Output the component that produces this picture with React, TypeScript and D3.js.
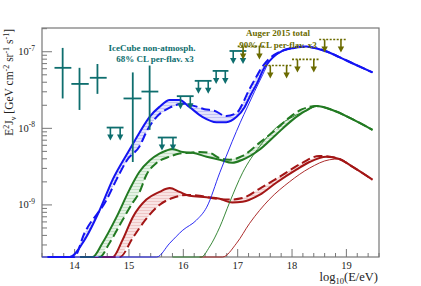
import * as d3 from 'd3'

type Pt = [number, number]

// x: log10(E/eV), y: log10(E^2 J) [GeV cm^-2 sr^-1 s^-1]
const blueTail: Pt[] = [[18.26, -6.93], [18.47, -6.96], [18.65, -7.0], [18.87, -7.07], [19.17, -7.17], [19.48, -7.27]]
const blueSolid: Pt[] = [
  [13.5, -10.4], [13.8, -9.9], [13.91, -9.68], [14.18, -9.46], [14.46, -9.07], [14.7, -8.67], [15.01, -8.28],
  [15.19, -8.06], [15.38, -7.85], [15.56, -7.72], [15.75, -7.63], [15.93, -7.63], [16.11, -7.72],
  [16.35, -7.85], [16.61, -7.92], [16.79, -7.92], [16.98, -7.85], [17.13, -7.72], [17.22, -7.59],
  [17.35, -7.42], [17.49, -7.21], [17.64, -7.08], [17.82, -6.99], [18.04, -6.95], ...blueTail,
]
const blueDashed: Pt[] = [
  [13.6, -10.4], [13.9, -9.9], [13.99, -9.68], [14.18, -9.37], [14.59, -8.93], [14.77, -8.67], [14.97, -8.41],
  [15.19, -8.24], [15.34, -8.02], [15.51, -7.85], [15.75, -7.73], [15.99, -7.68], [16.21, -7.71],
  [16.39, -7.75], [16.57, -7.77], [16.79, -7.84], [16.98, -7.8], [17.09, -7.68], [17.18, -7.54],
  [17.31, -7.37], [17.44, -7.21], [17.58, -7.09], [17.77, -7.0], [17.99, -6.95], [18.2, -6.93], ...blueTail.slice(1),
]
const blueThin: Pt[] = [
  [13.4, -10.8], [15.2, -10.1], [15.51, -9.68], [15.75, -9.5], [15.99, -9.33], [16.24, -9.2], [16.43, -9.03],
  [16.67, -8.58], [16.9, -8.17], [17.05, -7.92], [17.18, -7.72], [17.31, -7.52], [17.46, -7.3],
  [17.58, -7.13], [17.71, -7.04], [17.92, -6.97], [18.1, -6.94], ...blueTail,
]

const greenTail: Pt[] = [[18.45, -7.71], [18.74, -7.76], [19.11, -7.88], [19.48, -8.02]]
const greenSolid: Pt[] = [
  [14.1, -10.3], [14.25, -9.85], [14.33, -9.68], [14.51, -9.5], [14.77, -9.16], [15.01, -8.8], [15.19, -8.57],
  [15.38, -8.42], [15.56, -8.33], [15.69, -8.29], [15.8, -8.27], [15.99, -8.31], [16.17, -8.32],
  [16.43, -8.37], [16.67, -8.41], [16.9, -8.45], [17.09, -8.41], [17.4, -8.28], [17.71, -8.08],
  [18.01, -7.89], [18.23, -7.78], ...greenTail,
]
const greenDashed: Pt[] = [
  [14.2, -10.3], [14.38, -9.85], [14.46, -9.68], [14.64, -9.5], [14.88, -9.2], [15.07, -8.97], [15.19, -8.84],
  [15.32, -8.61], [15.51, -8.45], [15.75, -8.37], [15.93, -8.33], [16.11, -8.32], [16.3, -8.31],
  [16.48, -8.32], [16.67, -8.39], [16.85, -8.41], [17.09, -8.36], [17.4, -8.19], [17.71, -8.01],
  [17.95, -7.86], [18.19, -7.75], ...greenTail,
]
const greenThin: Pt[] = [
  [15.8, -10.5], [16.25, -9.9], [16.33, -9.68], [16.48, -9.55], [16.67, -9.29], [16.85, -8.97], [17.09, -8.58],
  [17.4, -8.24], [17.71, -7.99], [18.01, -7.85], [18.3, -7.76], ...greenTail,
]

const redTail: Pt[] = [[18.87, -8.4], [19.11, -8.5], [19.48, -8.67]]
const redSolid: Pt[] = [
  [14.2, -10.4], [14.6, -9.85], [14.7, -9.68], [14.88, -9.46], [15.07, -9.16], [15.32, -8.93], [15.56, -8.83],
  [15.75, -8.78], [15.93, -8.83], [16.11, -8.88], [16.43, -8.9], [16.67, -8.92], [16.9, -8.97],
  [17.09, -8.96], [17.4, -8.87], [17.71, -8.71], [18.08, -8.54], [18.32, -8.44], [18.63, -8.37], ...redTail,
]
const redDashed: Pt[] = [
  [14.35, -10.4], [14.72, -9.85], [14.83, -9.68], [15.07, -9.43], [15.32, -9.18], [15.56, -9.0], [15.8, -8.91],
  [16.06, -8.87], [16.3, -8.88], [16.61, -8.92], [16.85, -8.93], [17.09, -8.91], [17.4, -8.79],
  [17.82, -8.61], [18.19, -8.45], [18.5, -8.36], [18.7, -8.37], ...redTail,
]
const redThin: Pt[] = [
  [16.3, -10.3], [16.6, -9.85], [16.72, -9.68], [16.98, -9.5], [17.22, -9.24], [17.58, -8.93], [17.95, -8.7],
  [18.32, -8.52], [18.69, -8.41], ...redTail,
]

// IceCube non-atmospheric points: bin edges, centre, value and error range
const iceCubePoints = [
  { e: 13.78, lo: 13.63, hi: 13.94, f: -7.21, fLo: -7.61, fHi: -6.95 },
  { e: 14.09, lo: 13.94, hi: 14.26, f: -7.42, fLo: -7.76, fHi: -7.21 },
  { e: 14.42, lo: 14.28, hi: 14.59, f: -7.34, fLo: -7.55, fHi: -7.16 },
  { e: 15.07, lo: 14.9, hi: 15.23, f: -7.61, fLo: -8.44, fHi: -7.27 },
  { e: 15.38, lo: 15.23, hi: 15.54, f: -7.52, fLo: -8.02, fHi: -7.18 },
]
const iceCubeLimits = [
  { lo: 14.59, hi: 14.9, f: -7.99 },
  { lo: 15.53, hi: 15.88, f: -8.12 },
  { lo: 15.88, hi: 16.19, f: -7.58 },
  { lo: 16.21, hi: 16.52, f: -7.38 },
  { lo: 16.54, hi: 16.83, f: -7.25 },
  { lo: 16.85, hi: 17.16, f: -6.99 },
]
const augerLimits = [
  { lo: 17.0, hi: 17.5, f: -6.93 },
  { lo: 17.5, hi: 18.0, f: -7.18 },
  { lo: 18.0, hi: 18.5, f: -7.1 },
  { lo: 18.5, hi: 19.0, f: -6.84 },
]

const xTicks = [14, 15, 16, 17, 18, 19]
const yTickExps = [-9, -8, -7]

const W = 421
const H = 286
const L = 42
const R = 379
const T = 28
const B = 257
const yMinExp = -9.68
const yMaxExp = -6.69

const serif = "'Liberation Serif', 'Times New Roman', serif"
const teal = '#0e6e6e'
const olive = '#6b6b00'
const axisGrey = '#777'

export default function App() {
  const x = d3.scaleLinear().domain([13.4, 19.6]).range([L, R])
  const y = d3.scaleLog().domain([10 ** yMinExp, 10 ** yMaxExp]).range([B, T])
  const yv = (v: number) => y(10 ** Math.max(v, yMinExp))

  const line = d3.line<Pt>().x(d => x(d[0])).y(d => yv(d[1])).curve(d3.curveMonotoneX)
  const lineRev = d3.line<Pt>().x(d => x(d[0])).y(d => yv(d[1])).curve(d3.curveLinear)
  const band = (a: Pt[], b: Pt[]) => {
    // along one curve, back along the other
    const p1 = line(a) || ''
    const rev = [...b].reverse()
    const p2 = (lineRev(rev) || '').replace(/^M/, 'L')
    return p1 + p2 + 'Z'
  }

  const families = [
    { key: 'red', color: '#a31616', pat: 'hatchRed', solid: redSolid, dashed: redDashed, thin: redThin },
    { key: 'green', color: '#227a22', pat: 'hatchGreen', solid: greenSolid, dashed: greenDashed, thin: greenThin },
    { key: 'blue', color: '#1414f2', pat: 'hatchBlue', solid: blueSolid, dashed: blueDashed, thin: blueThin },
  ]

  const xMinor: number[] = []
  for (let i = 67; i <= 98; i++) if (i % 5 !== 0) xMinor.push(i / 5)
  const yMinor: number[] = []
  for (let e = -10; e <= -7; e++) {
    for (let k = 2; k <= 9; k++) {
      const v = k * 10 ** e
      if (v > 10 ** yMinExp && v < 10 ** yMaxExp) yMinor.push(v)
    }
  }

  const arrow = (cx: number, y0: number, color: string, k: string) => (
    <g key={k}>
      <line x1={cx} x2={cx} y1={y0} y2={y0 + 8} stroke={color} strokeWidth={1.6} />
      <path d={`M${cx - 3.2},${y0 + 7} L${cx + 3.2},${y0 + 7} L${cx},${y0 + 13} Z`} fill={color} />
    </g>
  )

  return (
    <svg width={W} height={H} style={{ position: 'absolute', left: 0, top: 0, background: '#fff' }}>
      <defs>
        <clipPath id="plotArea">
          <rect x={L} y={T - 2} width={R - L} height={B - T + 4} />
        </clipPath>
        {[
          ['hatchBlue', '#e4e4fb', '#c2c2f3'],
          ['hatchGreen', '#e6f2e6', '#c6e0c6'],
          ['hatchRed', '#f8e4e4', '#efc6c6'],
        ].map(([id, bg, fg]) => (
          <pattern key={id} id={id} width={4} height={3} patternUnits="userSpaceOnUse">
            <rect width={4} height={3} fill={bg} />
            <line x1={0} x2={4} y1={0.5} y2={0.5} stroke={fg} strokeWidth={1} />
          </pattern>
        ))}
      </defs>

      {/* frame */}
      <rect x={L} y={T} width={R - L} height={B - T} fill="none" stroke={axisGrey} strokeWidth={1.2} />

      {/* x ticks */}
      {xTicks.map(t => (
        <line key={'xt' + t} x1={x(t)} x2={x(t)} y1={B} y2={B - 8} stroke={axisGrey} strokeWidth={1} />
      ))}
      {xMinor.map(t => (
        <line key={'xm' + t} x1={x(t)} x2={x(t)} y1={B} y2={B - 4} stroke={axisGrey} strokeWidth={1} />
      ))}
      {xTicks.map(t => (
        <text key={'xl' + t} x={x(t)} y={B + 12} textAnchor="middle" fontFamily={serif} fontSize={10.5} fill="#222">
          {t}
        </text>
      ))}

      {/* y ticks */}
      {yTickExps.map(e => (
        <line key={'yt' + e} x1={L} x2={L + 10} y1={y(10 ** e)} y2={y(10 ** e)} stroke={axisGrey} strokeWidth={1} />
      ))}
      {yMinor.map((v, i) => (
        <line key={'ym' + i} x1={L} x2={L + 5} y1={y(v)} y2={y(v)} stroke={axisGrey} strokeWidth={1} />
      ))}
      {yTickExps.map(e => (
        <text key={'yl' + e} x={35} y={y(10 ** e) + 3.5} textAnchor="end" fontFamily={serif} fontSize={10.5} fill="#222">
          10<tspan dy={-4.5} fontSize={7.5}>{e}</tspan>
        </text>
      ))}

      {/* model curves */}
      <g clipPath="url(#plotArea)">
        {families.map(f => (
          <g key={f.key}>
            <path d={band(f.solid, f.dashed)} fill={`url(#${f.pat})`} stroke="none" />
            <path d={line(f.thin) || ''} fill="none" stroke={f.color} strokeWidth={0.9} />
            <path d={line(f.dashed) || ''} fill="none" stroke={f.color} strokeWidth={2} strokeDasharray="9,4" />
            <path d={line(f.solid) || ''} fill="none" stroke={f.color} strokeWidth={2} />
          </g>
        ))}
      </g>

      {/* IceCube points */}
      {iceCubePoints.map((p, i) => (
        <g key={'icp' + i} stroke={teal} strokeWidth={1.8}>
          <line x1={x(p.lo)} x2={x(p.hi)} y1={yv(p.f)} y2={yv(p.f)} />
          <line x1={x(p.e)} x2={x(p.e)} y1={yv(p.fHi)} y2={yv(p.fLo)} />
        </g>
      ))}
      {iceCubeLimits.map((u, i) => {
        const y0 = yv(u.f)
        const a1 = x(u.lo + 0.22 * (u.hi - u.lo))
        const a2 = x(u.lo + 0.8 * (u.hi - u.lo))
        return (
          <g key={'icu' + i}>
            <line x1={x(u.lo)} x2={x(u.hi)} y1={y0} y2={y0} stroke={teal} strokeWidth={1.8} />
            {arrow(a1, y0, teal, 'a')}
            {arrow(a2, y0, teal, 'b')}
          </g>
        )
      })}

      {/* Auger limits */}
      {augerLimits.map((u, i) => {
        const y0 = yv(u.f)
        const a1 = x(u.lo + 0.2 * (u.hi - u.lo))
        const a2 = x(u.lo + 0.8 * (u.hi - u.lo))
        return (
          <g key={'au' + i}>
            <line x1={x(u.lo)} x2={x(u.hi)} y1={y0} y2={y0} stroke={olive} strokeWidth={1.6} strokeDasharray="2,1.5" />
            {arrow(a1, y0, olive, 'a')}
            {arrow(a2, y0, olive, 'b')}
          </g>
        )
      })}

      {/* annotations */}
      <text x={152} y={51} textAnchor="middle" fontFamily={serif} fontWeight="bold" fontSize={9} fill={teal}>
        IceCube non-atmosph.
      </text>
      <text x={155} y={62} textAnchor="middle" fontFamily={serif} fontWeight="bold" fontSize={9} fill={teal}>
        68% CL per-flav. x3
      </text>
      <text x={278} y={36} textAnchor="middle" fontFamily={serif} fontWeight="bold" fontSize={9} fill={olive}>
        Auger 2015 total
      </text>
      <text x={278} y={48} textAnchor="middle" fontFamily={serif} fontWeight="bold" fontSize={9} fill={olive}>
        90% CL per-flav. x3
      </text>

      {/* axis titles */}
      <text x={378} y={281} textAnchor="end" fontFamily={serif} fontSize={12.5} fill="#222">
        log<tspan dy={3} fontSize={8.5}>10</tspan>
        <tspan dy={-3}>(E/eV)</tspan>
      </text>
      <text transform={`translate(13,29) rotate(-90)`} textAnchor="end" fontFamily={serif} fontSize={11.5} fill="#222">
        E<tspan dy={-4} fontSize={8}>2</tspan>
        <tspan dy={4}>J</tspan>
        <tspan dy={2.5} fontSize={8}>ν</tspan>
        <tspan dy={-2.5}> [GeV cm</tspan>
        <tspan dy={-4} fontSize={8}>-2</tspan>
        <tspan dy={4}> sr</tspan>
        <tspan dy={-4} fontSize={8}>-1</tspan>
        <tspan dy={4}> s</tspan>
        <tspan dy={-4} fontSize={8}>-1</tspan>
        <tspan dy={4}>]</tspan>
      </text>
    </svg>
  )
}
